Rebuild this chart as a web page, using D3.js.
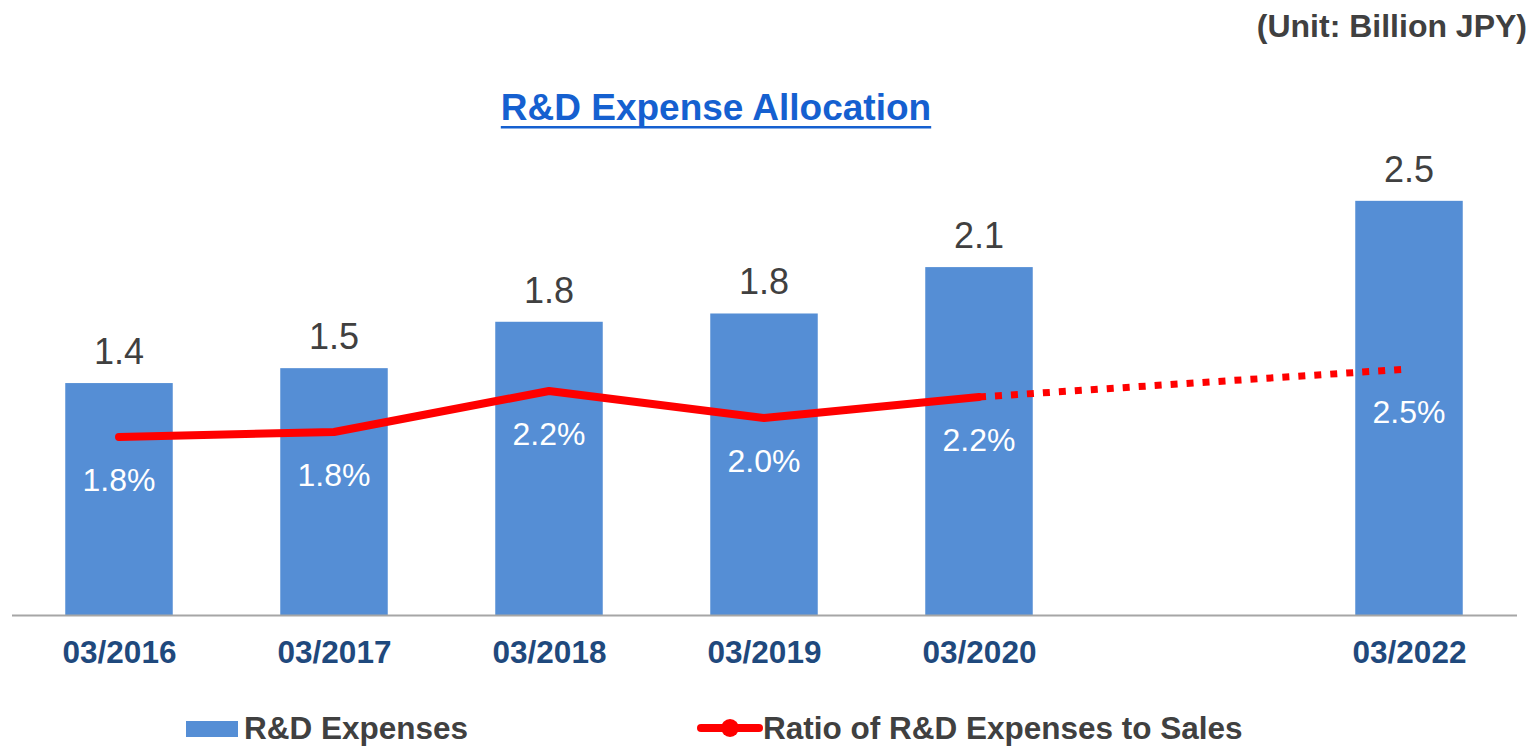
<!DOCTYPE html>
<html>
<head>
<meta charset="utf-8">
<script src="https://cdn.jsdelivr.net/npm/d3@7"></script>
<style>
  html, body { margin: 0; padding: 0; background: #ffffff; }
  svg { display: block; font-family: "Liberation Sans", Arial, sans-serif; }
</style>
</head>
<body>
<svg id="chart" width="1531" height="747"></svg>
<script>
// Fiscal years (March year-end) and their axis labels; FY2021 is intentionally skipped
const fiscalYears = [2016, 2017, 2018, 2019, 2020, 2022];
const categories = ["03/2016", "03/2017", "03/2018", "03/2019", "03/2020", "03/2022"];

// R&D expenses, billion JPY
const rdExpenses = [1.40, 1.49, 1.77, 1.82, 2.10, 2.50];

// Ratio of R&D expenses to sales, %
const rdRatio = [1.78, 1.83, 2.24, 1.97, 2.18, 2.46];

// Index of the last actual year; the segment after it is a forecast
const lastActualIndex = 4;

const seriesNames = ["R&D Expenses", "Ratio of R&D Expenses to Sales"];
const chartTitle = "R&D Expense Allocation";
const unitNote = "(Unit: Billion JPY)";

const W = 1531, H = 747;
const baseline = 615;

const svg = d3.select("#chart");

const x = d3.scaleLinear().domain([2015.5, 2022.5]).range([11.5, 1516.5]);
const yBar = d3.scaleLinear().domain([0, 3]).range([baseline, baseline - 497]);
const yPct = d3.scaleLinear().domain([0, 5]).range([baseline, baseline - 500]);

const barColor = "#558ed5";
const lineColor = "#ff0000";
const textGray = "#404040";
const halfBar = 0.25;

const data = fiscalYears.map((fy, i) => ({
  fy, label: categories[i], exp: rdExpenses[i], pct: rdRatio[i]
}));

// Bars
svg.append("g").selectAll("rect")
  .data(data).join("rect")
  .attr("x", d => x(d.fy - halfBar))
  .attr("width", d => x(d.fy + halfBar) - x(d.fy - halfBar))
  .attr("y", d => yBar(d.exp))
  .attr("height", d => baseline - yBar(d.exp))
  .attr("fill", barColor);

// X axis
const xAxis = svg.append("g")
  .attr("transform", `translate(0,${baseline})`)
  .call(d3.axisBottom(x)
    .tickValues(fiscalYears)
    .tickFormat((d, i) => categories[i])
    .tickSize(0)
    .tickSizeOuter(0)
    .tickPadding(0));
xAxis.select(".domain").attr("stroke", "#a6a6a6").attr("stroke-width", 2);
xAxis.selectAll(".tick text")
  .attr("dy", null)
  .attr("y", 48)
  .attr("fill", "#1f497d")
  .attr("font-size", 31.5)
  .attr("font-weight", "bold")
  .attr("font-family", "'Liberation Sans', Arial, sans-serif");

// Bar value labels
svg.append("g").selectAll("text")
  .data(data).join("text")
  .attr("x", d => x(d.fy))
  .attr("y", d => yBar(d.exp) - 19)
  .attr("text-anchor", "middle")
  .attr("font-size", 36)
  .attr("fill", textGray)
  .text(d => d3.format(".1f")(d.exp));

// Ratio line: solid for actuals, dotted for the forecast segment
const line = d3.line().x(d => x(d.fy)).y(d => yPct(d.pct));

svg.append("path")
  .datum(data.slice(0, lastActualIndex + 1))
  .attr("d", line)
  .attr("fill", "none")
  .attr("stroke", lineColor)
  .attr("stroke-width", 8)
  .attr("stroke-linecap", "round")
  .attr("stroke-linejoin", "round");

svg.append("path")
  .datum(data.slice(lastActualIndex))
  .attr("d", line)
  .attr("fill", "none")
  .attr("stroke", lineColor)
  .attr("stroke-width", 7)
  .attr("stroke-dasharray", "7,9");

// Ratio labels
svg.append("g").selectAll("text")
  .data(data).join("text")
  .attr("x", d => x(d.fy))
  .attr("y", d => yPct(d.pct) + 54)
  .attr("text-anchor", "middle")
  .attr("font-size", 32)
  .attr("fill", "#ffffff")
  .text(d => d3.format(".1f")(d.pct) + "%");

// Title with underline
const title = svg.append("text")
  .attr("x", 716)
  .attr("y", 120)
  .attr("text-anchor", "middle")
  .attr("font-size", 37)
  .attr("font-weight", "bold")
  .attr("fill", "#1560d0")
  .text(chartTitle);
const tLen = title.node().getComputedTextLength();
svg.append("rect")
  .attr("x", 716 - tLen / 2)
  .attr("y", 126)
  .attr("width", tLen)
  .attr("height", 2.5)
  .attr("fill", "#1560d0");

// Unit note
svg.append("text")
  .attr("x", 1527)
  .attr("y", 37)
  .attr("text-anchor", "end")
  .attr("font-size", 32)
  .attr("font-weight", "bold")
  .attr("fill", textGray)
  .text(unitNote);

// Legend
const legend = svg.append("g");
legend.append("rect")
  .attr("x", 186).attr("y", 721).attr("width", 52).attr("height", 16)
  .attr("fill", barColor);
legend.append("text")
  .attr("x", 244).attr("y", 739)
  .attr("font-size", 31.5).attr("font-weight", "bold").attr("fill", textGray)
  .text(seriesNames[0]);

legend.append("line")
  .attr("x1", 701).attr("x2", 759).attr("y1", 728).attr("y2", 728)
  .attr("stroke", lineColor).attr("stroke-width", 8).attr("stroke-linecap", "round");
legend.append("circle")
  .attr("cx", 730).attr("cy", 728).attr("r", 9)
  .attr("fill", lineColor);
legend.append("text")
  .attr("x", 763).attr("y", 739)
  .attr("font-size", 31.5).attr("font-weight", "bold").attr("fill", textGray)
  .text(seriesNames[1]);
</script>
</body>
</html>
